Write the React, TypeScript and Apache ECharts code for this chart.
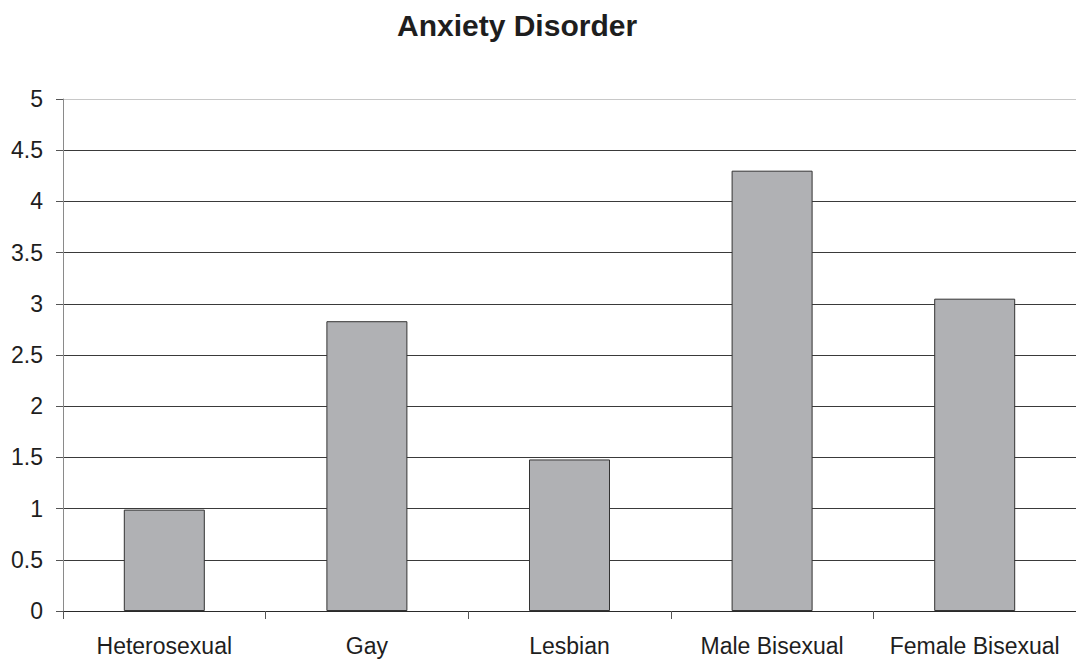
import React, { useEffect, useRef } from "react";
import * as echarts from "echarts";

const categories = ["Heterosexual", "Gay", "Lesbian", "Male Bisexual", "Female Bisexual"];
const values = [0.99, 2.83, 1.48, 4.3, 3.05];
const yTicks = [0, 0.5, 1, 1.5, 2, 2.5, 3, 3.5, 4, 4.5, 5];

const FONT = "'Liberation Sans', Arial, sans-serif";

export default function App() {
  const ref = useRef<HTMLDivElement>(null);

  useEffect(() => {
    if (!ref.current) return;
    const chart = echarts.init(ref.current, null, { renderer: "svg" });
    // top gridline is drawn lighter than the rest
    const gridColors = yTicks.map((_, i) => (i === yTicks.length - 1 ? "#c8c8c8" : "#3a3a3a"));
    chart.setOption({
      animation: false,
      backgroundColor: "#ffffff",
      title: {
        text: "Anxiety Disorder",
        left: 392,
        top: 5,
        textStyle: { fontFamily: FONT, fontSize: 30, fontWeight: "bold", color: "#1e1e1e" },
      },
      grid: { left: 63, top: 99, width: 1018, height: 512, containLabel: false },
      xAxis: {
        type: "category",
        data: categories,
        axisLine: { show: true, lineStyle: { color: "#2a2a2a", width: 1 } },
        axisTick: { show: true, alignWithLabel: false, length: 8, lineStyle: { color: "#555" } },
        axisLabel: { fontFamily: FONT, fontSize: 23, color: "#1e1e1e", margin: 23, interval: 0 },
      },
      yAxis: {
        type: "value",
        min: 0,
        max: 5,
        interval: 0.5,
        axisLine: { show: true, lineStyle: { color: "#8a8a8a", width: 1 } },
        axisTick: { show: true, length: 7, lineStyle: { color: "#555" } },
        axisLabel: { fontFamily: FONT, fontSize: 23, color: "#1e1e1e", margin: 20 },
        splitLine: { show: true, lineStyle: { color: gridColors, width: 1 } },
      },
      series: [
        {
          type: "bar",
          data: values,
          barWidth: 81,
          itemStyle: { color: "#b0b1b4", borderColor: "#333333", borderWidth: 1 },
        },
      ],
    });
    return () => chart.dispose();
  }, []);

  return (
    <div
      ref={ref}
      style={{ position: "fixed", left: 0, top: 0, width: 1076, height: 665 }}
    />
  );
}
